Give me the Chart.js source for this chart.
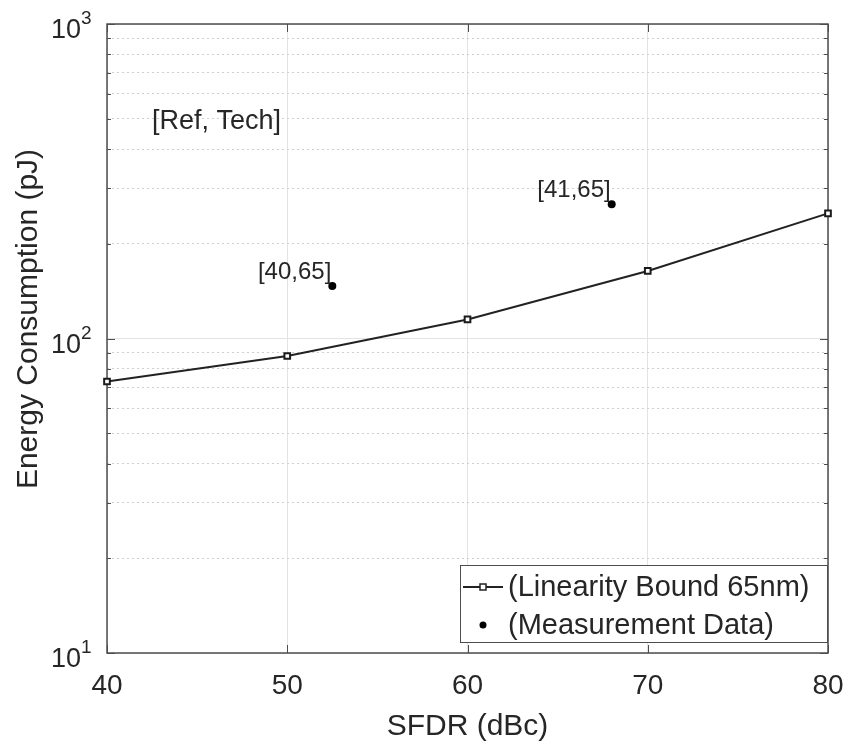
<!DOCTYPE html>
<html>
<head>
<meta charset="utf-8">
<script src="https://cdn.jsdelivr.net/npm/chart.js@4.4.1/dist/chart.umd.min.js"></script>
<style>
  html, body { margin: 0; padding: 0; background: #fff; }
  canvas { display: block; }
</style>
</head>
<body>
<canvas id="energyChart" width="845" height="743"></canvas>
<script>
// values
const sfdr = [40, 50, 60, 70, 80];
const boundPJ = [73, 88, 115, 164, 250];
const measSfdr = [52.5, 68];
const measPJ = [147, 267];
const measLabels = ['[40,65]', '[41,65]'];
const seriesNames = ['(Linearity Bound 65nm)', '(Measurement Data)'];
const xTicks = [40, 50, 60, 70, 80];
const yTicks = [10, 20, 30, 40, 50, 60, 70, 80, 90, 100, 200, 300, 400, 500, 600, 700, 800, 900, 1000];
const noteText = '[Ref, Tech]';
const notePos = [42.5, 490];
const yTitle = 'Energy Consumption (pJ)';

const FONT = "'Liberation Sans', Arial, Helvetica, sans-serif";
const INK = '#262626';

function isDecade(v) {
    const l = Math.log10(v);
    return Math.abs(l - Math.round(l)) < 1e-9;
}

// box, inside tick marks, log labels, y title, text notes and legend
const decorations = {
    id: 'decorations',
    beforeDatasetsDraw(chart) {
        const { ctx, chartArea: a, scales: { x, y } } = chart;
        ctx.save();
        ctx.strokeStyle = '#4d4d4d';
        ctx.lineWidth = 1;
        ctx.beginPath();
        yTicks.forEach(v => {
            const py = Math.round(y.getPixelForValue(v)) + 0.5;
            const len = isDecade(v) ? 8 : 4;
            ctx.moveTo(a.left, py); ctx.lineTo(a.left + len, py);
            ctx.moveTo(a.right, py); ctx.lineTo(a.right - len, py);
        });
        xTicks.forEach(v => {
            const px = Math.round(x.getPixelForValue(v)) + 0.5;
            ctx.moveTo(px, a.bottom); ctx.lineTo(px, a.bottom - 8);
            ctx.moveTo(px, a.top); ctx.lineTo(px, a.top + 8);
        });
        ctx.stroke();
        ctx.lineWidth = 1.5;
        ctx.strokeRect(a.left, a.top, a.right - a.left, a.bottom - a.top);

        // decade labels 10^n with a real superscript
        ctx.fillStyle = INK;
        ctx.textBaseline = 'middle';
        yTicks.filter(isDecade).forEach(v => {
            const py = y.getPixelForValue(v);
            const ex = String(Math.round(Math.log10(v)));
            ctx.font = '27px ' + FONT;
            ctx.textAlign = 'right';
            ctx.fillText('10', a.left - 26, py + 7);
            ctx.font = '19px ' + FONT;
            ctx.textAlign = 'left';
            ctx.fillText(ex, a.left - 26, py - 5);
        });

        // y title
        ctx.save();
        ctx.translate(29, 319);
        ctx.rotate(-Math.PI / 2);
        ctx.font = '30px ' + FONT;
        ctx.textAlign = 'center';
        ctx.fillText(yTitle, 0, 0);
        ctx.restore();
        ctx.restore();
    },
    afterDatasetsDraw(chart) {
        const { ctx, chartArea: a, scales: { x, y } } = chart;
        ctx.save();
        ctx.fillStyle = INK;

        // point labels
        ctx.font = '24px ' + FONT;
        ctx.textAlign = 'right';
        ctx.textBaseline = 'middle';
        measLabels.forEach((t, i) => {
            ctx.fillText(t, x.getPixelForValue(measSfdr[i]) - 1, y.getPixelForValue(measPJ[i]) - 14);
        });

        ctx.font = '27px ' + FONT;
        ctx.textAlign = 'left';
        ctx.fillText(noteText, x.getPixelForValue(notePos[0]), y.getPixelForValue(notePos[1]));

        // legend box, bottom right inside the axes
        const bw = 367, bh = 77;
        const bx = a.right - 1 - bw, by = a.bottom - 11 - bh;
        ctx.fillStyle = '#fff';
        ctx.fillRect(bx, by, bw, bh);
        ctx.strokeStyle = '#4d4d4d';
        ctx.lineWidth = 1;
        ctx.strokeRect(bx + 0.5, by + 0.5, bw, bh);

        const r1 = by + 22, r2 = by + 60;
        ctx.strokeStyle = '#222';
        ctx.lineWidth = 2;
        ctx.beginPath();
        ctx.moveTo(bx + 3, r1); ctx.lineTo(bx + 43, r1);
        ctx.stroke();
        ctx.fillStyle = '#fff';
        ctx.lineWidth = 1.5;
        ctx.fillRect(bx + 20, r1 - 3, 6, 6);
        ctx.strokeRect(bx + 20, r1 - 3, 6, 6);
        ctx.fillStyle = '#000';
        ctx.beginPath();
        ctx.arc(bx + 23, r2, 3.5, 0, Math.PI * 2);
        ctx.fill();

        ctx.fillStyle = INK;
        ctx.font = '29px ' + FONT;
        ctx.textAlign = 'left';
        ctx.textBaseline = 'middle';
        ctx.fillText(seriesNames[0], bx + 48, r1 + 1);
        ctx.fillText(seriesNames[1], bx + 48, r2 + 1);
        ctx.restore();
    }
};

const ctx = document.getElementById('energyChart').getContext('2d');
new Chart(ctx, {
    type: 'line',
    data: {
        datasets: [{
            label: seriesNames[0],
            data: sfdr.map((v, i) => ({ x: v, y: boundPJ[i] })),
            borderColor: '#222',
            borderWidth: 2,
            pointStyle: 'rect',
            pointRadius: 4,
            pointBorderWidth: 2,
            pointBackgroundColor: '#fff',
            pointBorderColor: '#1a1a1a',
            tension: 0,
            clip: false
        }, {
            label: seriesNames[1],
            data: measSfdr.map((v, i) => ({ x: v, y: measPJ[i] })),
            showLine: false,
            pointRadius: 4,
            pointBackgroundColor: '#000',
            pointBorderColor: '#000',
            pointBorderWidth: 0
        }]
    },
    options: {
        responsive: false,
        animation: false,
        layout: { padding: { top: 24, right: 17, left: 0, bottom: 0 } },
        plugins: { legend: { display: false }, tooltip: { enabled: false } },
        scales: {
            x: {
                type: 'linear',
                min: 40,
                max: 80,
                afterBuildTicks: scale => { scale.ticks = xTicks.map(v => ({ value: v })); },
                afterFit: scale => {
                    scale.height = 90;
                    scale.paddingLeft = 0;
                    scale.paddingRight = 0;
                },
                grid: { color: '#e3e3e3', lineWidth: 1, drawTicks: false },
                border: { display: false },
                ticks: {
                    color: INK,
                    padding: 16,
                    font: { family: FONT, size: 28 },
                    maxRotation: 0
                },
                title: {
                    display: true,
                    text: 'SFDR (dBc)',
                    color: INK,
                    font: { family: FONT, size: 30 },
                    padding: { top: 0, bottom: -2 }
                }
            },
            y: {
                type: 'logarithmic',
                min: 10,
                max: 1000,
                afterBuildTicks: scale => { scale.ticks = yTicks.map(v => ({ value: v, major: isDecade(v) })); },
                afterFit: scale => {
                    scale.width = 107;
                    scale.paddingTop = 0;
                    scale.paddingBottom = 0;
                },
                grid: {
                    color: c => isDecade(c.tick.value) ? '#e3e3e3' : 'rgba(0,0,0,0)',
                    drawTicks: false
                },
                border: { display: false },
                ticks: { autoSkip: false, callback: () => '' }
            },
            yMinor: {
                type: 'logarithmic',
                position: 'right',
                min: 10,
                max: 1000,
                afterBuildTicks: scale => { scale.ticks = yTicks.map(v => ({ value: v })); },
                afterFit: scale => { scale.width = 0; },
                grid: {
                    color: c => isDecade(c.tick.value) ? 'rgba(0,0,0,0)' : '#cfcfcf',
                    drawTicks: false
                },
                border: { display: false, dash: [2, 3] },
                ticks: { display: false }
            }
        }
    },
    plugins: [decorations]
});
</script>
</body>
</html>
